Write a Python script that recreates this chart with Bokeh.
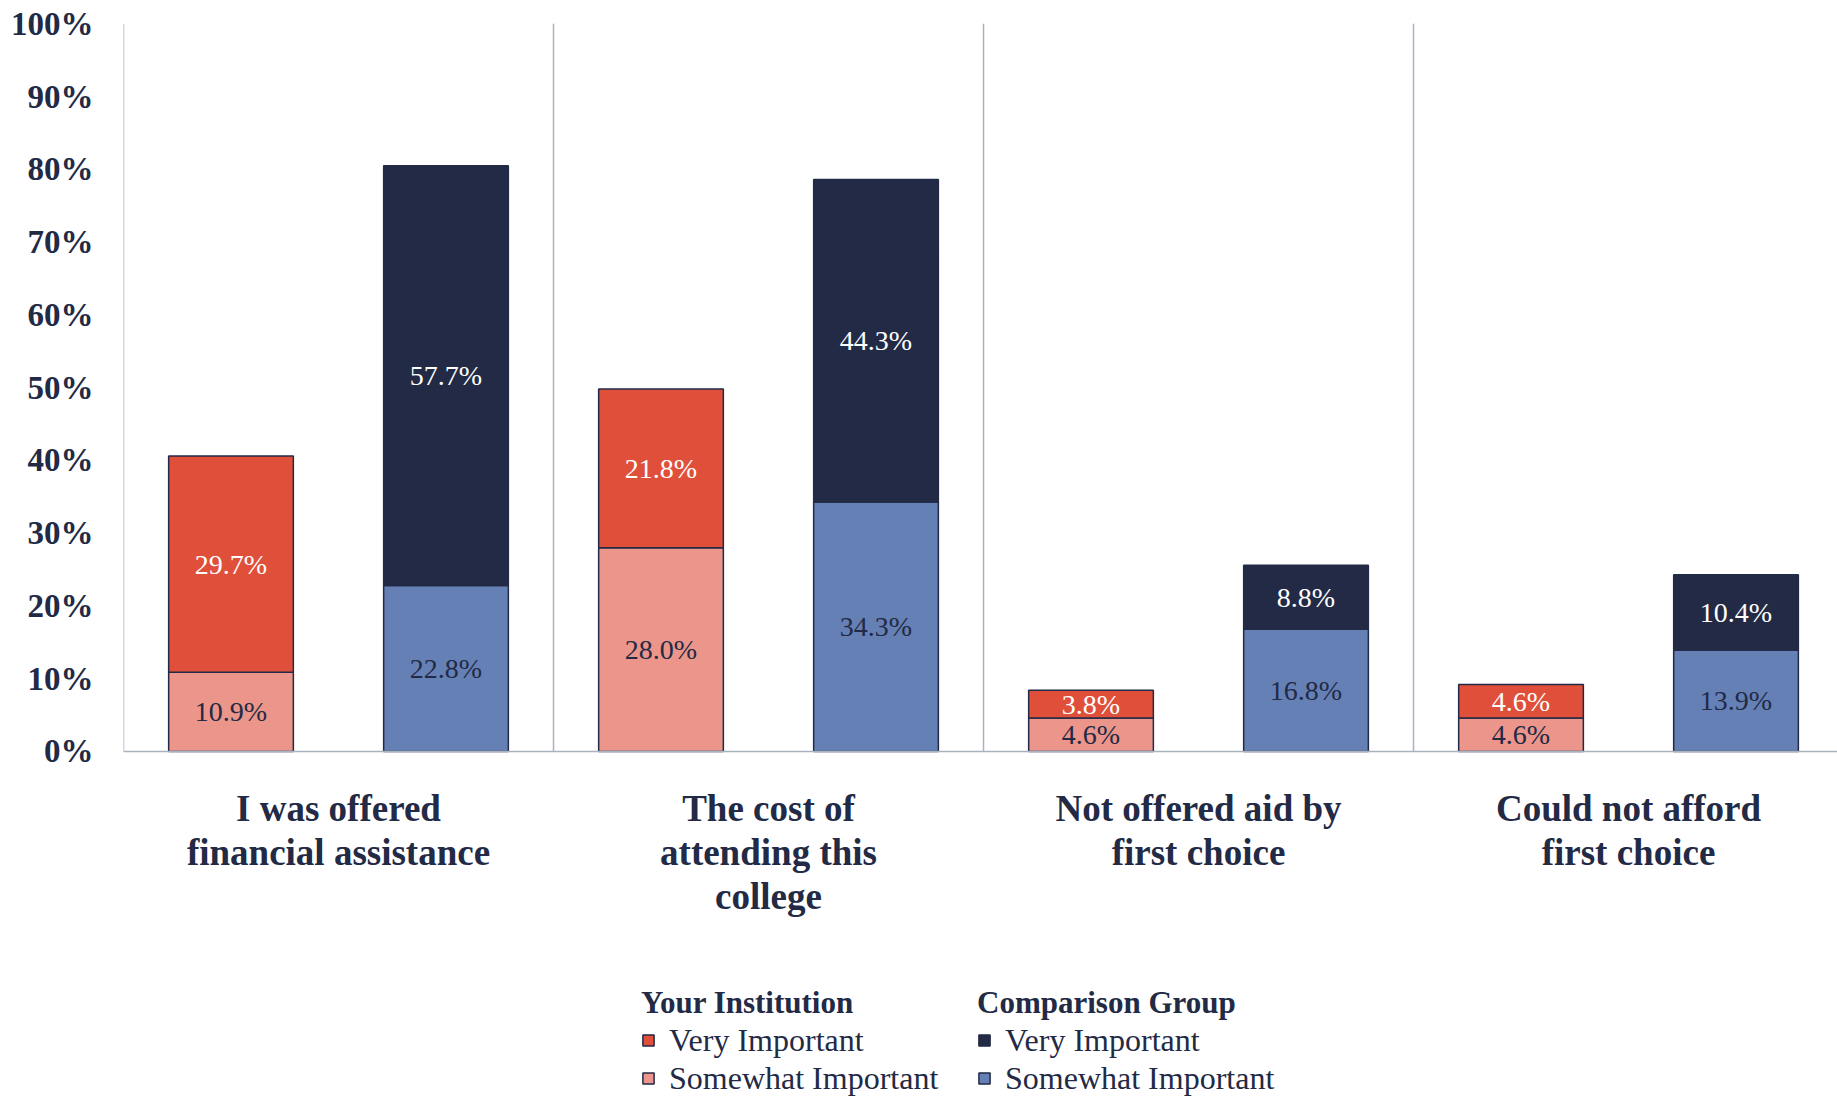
from bokeh.plotting import figure
from bokeh.models import Range1d, FixedTicker, Legend, LegendItem, ColumnDataSource
from bokeh.core.properties import value
from bokeh.embed import file_html
from bokeh.resources import INLINE

# ---- data ----
categories = [
    "I was offered\nfinancial assistance",
    "The cost of\nattending this\ncollege",
    "Not offered aid by\nfirst choice",
    "Could not afford\nfirst choice",
]
inst_somewhat = [10.9, 28.0, 4.6, 4.6]
inst_very = [29.7, 21.8, 3.8, 4.6]
comp_somewhat = [22.8, 34.3, 16.8, 13.9]
comp_very = [57.7, 44.3, 8.8, 10.4]
y_ticks = [0, 10, 20, 30, 40, 50, 60, 70, 80, 90, 100]
y_tick_labels = [f"{t}%" for t in y_ticks]
series_titles = ["Your Institution", "Comparison Group"]
level_names = ["Very Important", "Somewhat Important"]

# ---- styles ----
NAVY = "#222a45"
RED = "#e04f39"
SALMON = "#ec958a"
BLUE = "#6580b5"
GRID = "#a9b3c0"
FONT = "Liberation Serif"
BAR_W = 0.29

n = len(categories)
x_inst = [i + 0.25 for i in range(n)]
x_comp = [i + 0.75 for i in range(n)]
inst_top = [a + b for a, b in zip(inst_somewhat, inst_very)]
comp_top = [a + b for a, b in zip(comp_somewhat, comp_very)]

p = figure(width=1837, height=1097,
           x_range=Range1d(0, 3.986), y_range=Range1d(-47.55, 103.2),
           output_backend="svg", toolbar_location=None,
           x_axis_location=None,
           min_border_left=123, min_border_right=0,
           min_border_top=0, min_border_bottom=0)
p.grid.visible = False
p.outline_line_color = None
p.background_fill_color = "white"
p.border_fill_color = "white"

# separators
sep_x = list(range(n))
p.segment(x0=sep_x, y0=[0] * n, x1=sep_x, y1=[100] * n, line_color=GRID, line_width=1.5)

# bars
r_is = p.vbar(x=x_inst, width=BAR_W, bottom=0, top=inst_somewhat,
              fill_color=SALMON, line_color=NAVY, line_width=1.5)
r_iv = p.vbar(x=x_inst, width=BAR_W, bottom=inst_somewhat, top=inst_top,
              fill_color=RED, line_color=NAVY, line_width=1.5)
r_cs = p.vbar(x=x_comp, width=BAR_W, bottom=0, top=comp_somewhat,
              fill_color=BLUE, line_color=NAVY, line_width=1.5)
r_cv = p.vbar(x=x_comp, width=BAR_W, bottom=comp_somewhat, top=comp_top,
              fill_color=NAVY, line_color=NAVY, line_width=1.5)

# baseline
p.segment(x0=[0], y0=[0], x1=[n], y1=[0], line_color=GRID, line_width=1.5)

# value labels
lx, ly, lt, lc = [], [], [], []
for i in range(n):
    lx += [x_inst[i], x_inst[i], x_comp[i], x_comp[i]]
    ly += [inst_somewhat[i] / 2, inst_somewhat[i] + inst_very[i] / 2,
           comp_somewhat[i] / 2, comp_somewhat[i] + comp_very[i] / 2]
    lt += [f"{inst_somewhat[i]:.1f}%", f"{inst_very[i]:.1f}%",
           f"{comp_somewhat[i]:.1f}%", f"{comp_very[i]:.1f}%"]
    lc += [NAVY, "white", NAVY, "white"]
src = ColumnDataSource(dict(x=lx, y=ly, text=lt, color=lc))
p.text(x="x", y="y", text="text", text_color="color", source=src,
       text_font=value(FONT), text_font_size="28px",
       text_align="center", text_baseline="middle")

# category labels
p.text(x=[i + 0.5 for i in range(n)], y=[-5.0] * n, text=categories,
       text_font=value(FONT), text_font_size="37px", text_font_style="bold",
       text_color=NAVY, text_align="center", text_baseline="top",
       text_line_height=1.07)

# y axis
ax = p.yaxis[0]
ax.ticker = FixedTicker(ticks=y_ticks)
ax.major_label_overrides = {t: l for t, l in zip(y_ticks, y_tick_labels)}
ax.axis_line_color = None
ax.major_tick_line_color = None
ax.minor_tick_line_color = None
ax.major_tick_out = 0
ax.major_label_standoff = 30
ax.major_label_text_font = FONT
ax.major_label_text_font_size = "33px"
ax.major_label_text_font_style = "bold"
ax.major_label_text_color = NAVY

# legends
def make_legend(title, renderers, loc):
    leg = Legend(items=[LegendItem(label=level_names[0], renderers=[renderers[0]]),
                        LegendItem(label=level_names[1], renderers=[renderers[1]])],
                 title=title, location=loc, orientation="vertical")
    leg.title_text_font = FONT
    leg.title_text_font_size = "31px"
    leg.title_text_font_style = "bold"
    leg.title_text_color = NAVY
    leg.title_standoff = 0
    leg.label_text_font = FONT
    leg.label_text_font_size = "32px"
    leg.label_text_color = NAVY
    leg.glyph_width = 14
    leg.glyph_height = 14
    leg.label_standoff = 14
    leg.label_height = 38
    leg.spacing = 0
    leg.padding = 0
    leg.margin = 0
    leg.border_line_color = None
    leg.background_fill_alpha = 0
    return leg

p.add_layout(make_legend(series_titles[0], [r_iv, r_is], (518, 0)))
p.add_layout(make_legend(series_titles[1], [r_cv, r_cs], (854, 0)))

open("out.html", "w").write(file_html(p, INLINE))
